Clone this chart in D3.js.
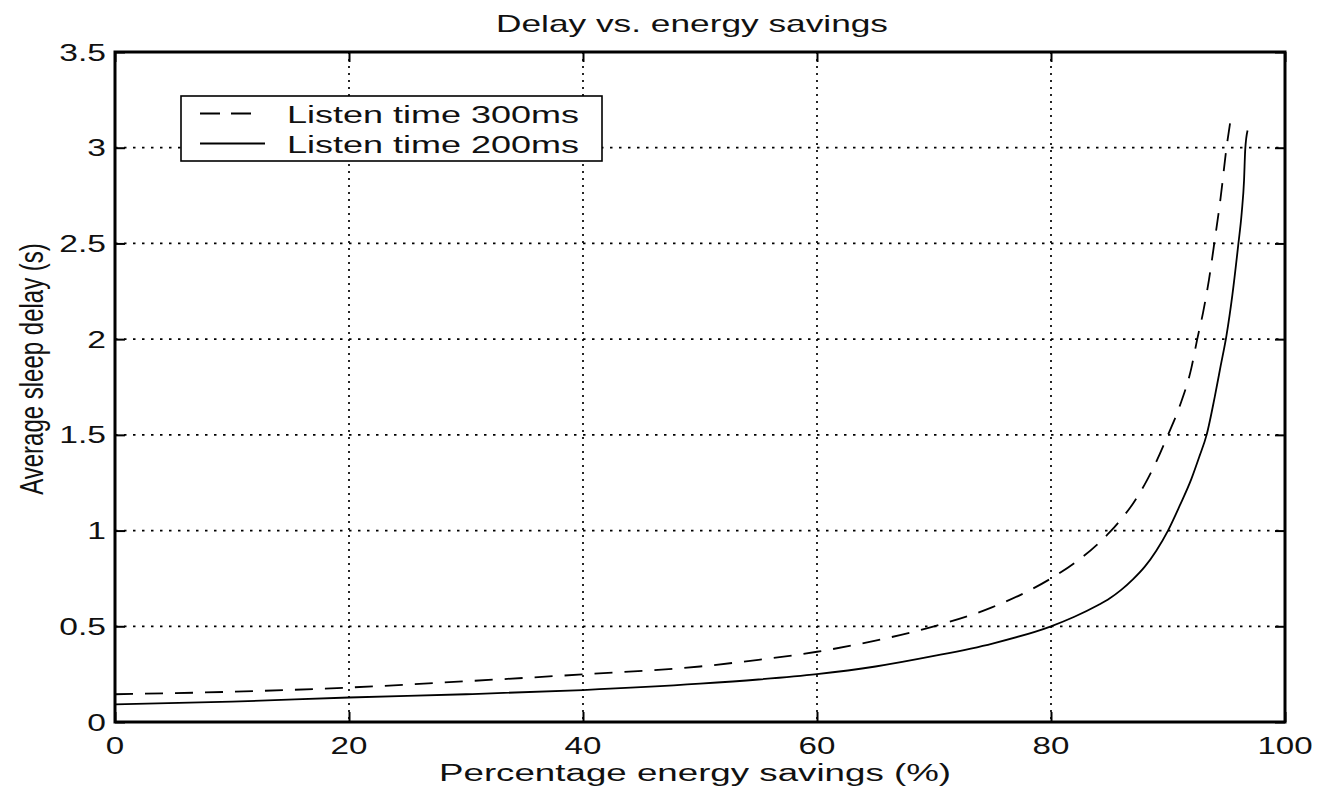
<!DOCTYPE html>
<html>
<head>
<meta charset="utf-8">
<script src="https://cdn.jsdelivr.net/npm/d3@7"></script>
<style>
  body { margin: 0; background: #fff; }
  text { font-family: "Liberation Sans", Arial, sans-serif; fill: #111; }
</style>
</head>
<body>
<script>
// values
var savings300 = [0, 10, 20, 30, 40, 50, 55, 60, 65, 70, 75, 80, 82, 84, 85, 86, 87, 88, 89, 90, 91, 92, 92.5, 93, 93.5, 94, 94.5, 95, 95.35];
var delay300   = [0.145, 0.158, 0.18, 0.213, 0.249, 0.29, 0.325, 0.367, 0.425, 0.5, 0.6, 0.75, 0.83, 0.93, 0.99, 1.06, 1.14, 1.24, 1.36, 1.5, 1.65, 1.85, 2.0, 2.14, 2.31, 2.52, 2.74, 3.0, 3.145];
var savings200 = [0, 10, 20, 30, 40, 50, 55, 60, 65, 70, 75, 80, 82, 84, 85, 86, 87, 88, 89, 90, 91, 92, 92.7, 93.3, 94, 94.5, 95, 95.5, 96, 96.3, 96.5, 96.6, 96.8];
var delay200   = [0.092, 0.106, 0.128, 0.145, 0.167, 0.2, 0.222, 0.25, 0.29, 0.345, 0.41, 0.5, 0.55, 0.61, 0.645, 0.69, 0.745, 0.81, 0.895, 1.0, 1.13, 1.27, 1.39, 1.5, 1.7, 1.86, 2.02, 2.23, 2.49, 2.66, 2.83, 2.99, 3.09];
var seriesNames = ["Listen time 300ms", "Listen time 200ms"];

var xTicks = [0, 20, 40, 60, 80, 100];
var xTickLabels = ["0", "20", "40", "60", "80", "100"];
var yTicks = [0, 0.5, 1, 1.5, 2, 2.5, 3, 3.5];
var yTickLabels = ["0", "0.5", "1", "1.5", "2", "2.5", "3", "3.5"];

var w = 1322;
var h = 790;
var plotL = 115, plotR = 1285, plotT = 52, plotB = 722;

var svg = d3.select("body")
    .append("svg")
    .attr("width", w)
    .attr("height", h);

svg.append("rect")
    .attr("width", w)
    .attr("height", h)
    .attr("fill", "#fff");

var x = d3.scaleLinear().domain([0, 100]).range([plotL, plotR]);
var y = d3.scaleLinear().domain([0, 3.5]).range([plotB, plotT]);

// grid
svg.selectAll("line.vgrid")
    .data(xTicks.slice(1, -1))
    .enter()
    .append("line")
    .attr("class", "vgrid")
    .attr("x1", function(d){ return x(d); })
    .attr("x2", function(d){ return x(d); })
    .attr("y1", plotT)
    .attr("y2", plotB)
    .attr("stroke", "#000")
    .attr("stroke-width", 1.7)
    .attr("stroke-dasharray", "2,5");

svg.selectAll("line.hgrid")
    .data(yTicks.slice(1, -1))
    .enter()
    .append("line")
    .attr("class", "hgrid")
    .attr("x1", plotL)
    .attr("x2", plotR)
    .attr("y1", function(d){ return y(d); })
    .attr("y2", function(d){ return y(d); })
    .attr("stroke", "#000")
    .attr("stroke-width", 1.7)
    .attr("stroke-dasharray", "2.5,6.5");

// ticks, pointing inwards on all four sides
function ticksOnly(g) {
    g.select(".domain").remove();
    g.selectAll("text").remove();
    g.selectAll("line").attr("stroke", "#000").attr("stroke-width", 2);
}
svg.append("g").attr("transform", "translate(0," + plotB + ")")
    .call(d3.axisBottom(x).tickValues(xTicks).tickSize(-10)).call(ticksOnly);
svg.append("g").attr("transform", "translate(0," + plotT + ")")
    .call(d3.axisTop(x).tickValues(xTicks).tickSize(-10)).call(ticksOnly);
svg.append("g").attr("transform", "translate(" + plotL + ",0)")
    .call(d3.axisLeft(y).tickValues(yTicks).tickSize(-10)).call(ticksOnly);
svg.append("g").attr("transform", "translate(" + plotR + ",0)")
    .call(d3.axisRight(y).tickValues(yTicks).tickSize(-10)).call(ticksOnly);

// tick labels (the picture is stretched sideways, so are the glyphs)
svg.selectAll("text.xtick")
    .data(xTicks)
    .enter()
    .append("text")
    .attr("class", "xtick")
    .attr("transform", function(d){ return "translate(" + x(d) + ",754) scale(1.38,1)"; })
    .attr("text-anchor", "middle")
    .attr("font-size", "24px")
    .text(function(d, i){ return xTickLabels[i]; });

svg.selectAll("text.ytick")
    .data(yTicks)
    .enter()
    .append("text")
    .attr("class", "ytick")
    .attr("transform", function(d){ return "translate(106," + (y(d) + 8.5) + ") scale(1.4,1)"; })
    .attr("text-anchor", "end")
    .attr("font-size", "24px")
    .text(function(d, i){ return yTickLabels[i]; });

// curves
var line = d3.line()
    .x(function(d){ return x(d[0]); })
    .y(function(d){ return y(d[1]); })
    .curve(d3.curveMonotoneX);

var pts300 = savings300.map(function(d, i){ return [d, delay300[i]]; });
var pts200 = savings200.map(function(d, i){ return [d, delay200[i]]; });

svg.append("path")
    .datum(pts300)
    .attr("d", line)
    .attr("fill", "none")
    .attr("stroke", "#000")
    .attr("stroke-width", 1.8)
    .attr("stroke-dasharray", "18,12");

svg.append("path")
    .datum(pts200)
    .attr("d", line)
    .attr("fill", "none")
    .attr("stroke", "#000")
    .attr("stroke-width", 1.8);

// frame
svg.append("rect")
    .attr("x", plotL)
    .attr("y", plotT)
    .attr("width", plotR - plotL)
    .attr("height", plotB - plotT)
    .attr("fill", "none")
    .attr("stroke", "#000")
    .attr("stroke-width", 3);

// legend
var legend = svg.append("g");
legend.append("rect")
    .attr("x", 181)
    .attr("y", 96)
    .attr("width", 421)
    .attr("height", 65)
    .attr("fill", "#fff")
    .attr("stroke", "#000")
    .attr("stroke-width", 1.6);

legend.selectAll("line")
    .data(seriesNames)
    .enter()
    .append("line")
    .attr("x1", 200)
    .attr("x2", function(d, i){ return i === 0 ? 252 : 265; })
    .attr("y1", function(d, i){ return 113.5 + i * 30; })
    .attr("y2", function(d, i){ return 113.5 + i * 30; })
    .attr("stroke", "#000")
    .attr("stroke-width", 1.8)
    .attr("stroke-dasharray", function(d, i){ return i === 0 ? "20,11" : null; });

legend.selectAll("text")
    .data(seriesNames)
    .enter()
    .append("text")
    .attr("transform", function(d, i){ return "translate(287," + (123 + i * 30) + ") scale(1.5,1)"; })
    .attr("font-size", "24px")
    .text(function(d){ return d; });

// title and axis labels
svg.append("text")
    .attr("transform", "translate(692,32) scale(1.47,1)")
    .attr("text-anchor", "middle")
    .attr("font-size", "24px")
    .text("Delay vs. energy savings");

svg.append("text")
    .attr("transform", "translate(695,781) scale(1.53,1)")
    .attr("text-anchor", "middle")
    .attr("font-size", "24px")
    .text("Percentage energy savings (%)");

svg.append("text")
    .attr("transform", "translate(43,369) scale(1.4,1) rotate(-90)")
    .attr("text-anchor", "middle")
    .attr("font-size", "24px")
    .text("Average sleep delay (s)");
</script>
</body>
</html>
